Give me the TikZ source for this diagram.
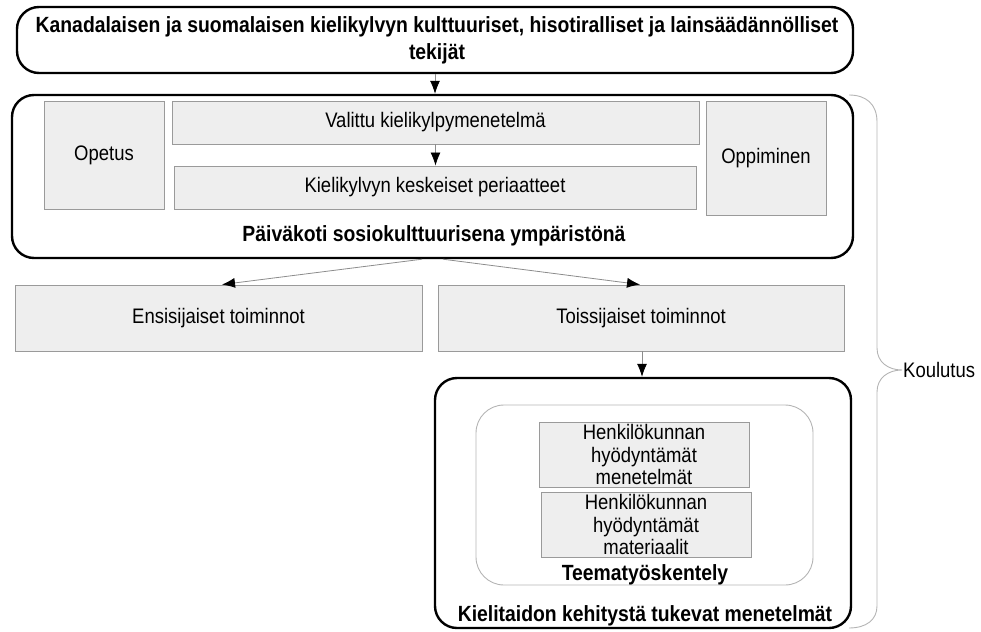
\documentclass[tikz,border=0pt]{standalone}
\usepackage{fontspec}
\setmainfont{Liberation Sans}[FakeStretch=0.88]
\usetikzlibrary{arrows.meta}
\definecolor{boxfill}{HTML}{EEEEEE}
\definecolor{boxline}{HTML}{9A9A9A}
\definecolor{linkgray}{HTML}{8C8C8C}
\definecolor{bracegray}{HTML}{B4B4B4}
\tikzset{
  frame/.style={draw=black, line width=2.4pt, rounded corners=22pt, inner sep=0pt},
  softframe/.style={draw=bracegray, line width=0.9pt, rounded corners=28pt, inner sep=0pt},
  greybox/.style={draw=boxline, fill=boxfill, line width=0.9pt, inner sep=0pt,
    align=center, font=\fontsize{21}{22.5}\selectfont},
  plain/.style={inner sep=0pt, align=center, font=\fontsize{21}{22.5}\selectfont},
  heading/.style={inner sep=0pt, align=center, font=\fontsize{22}{27}\selectfont\bfseries},
  link/.style={draw=linkgray, line width=0.8pt, -{Latex[length=13pt,width=10pt,color=black]}},
}
\begin{document}
\begin{tikzpicture}[x=1pt, y=-1pt]
\useasboundingbox (0,0) rectangle (981,631);

% top frame with the framework factors
\node[frame, minimum width=836pt, minimum height=66pt] (top) at (435,40) {};
\node[heading] (toptxt) at (437,40) {Kanadalaisen ja suomalaisen kielikylvyn kulttuuriset, hisotiralliset ja lainsäädännölliset\\tekijät};

% day-care frame
\node[frame, minimum width=841pt, minimum height=163pt] (main) at (432.5,176.5) {};
\node[greybox, minimum width=120pt, minimum height=108pt] (opetus) at (104,155) {Opetus};
\node[greybox, minimum width=527pt, minimum height=43pt] (valittu) at (435.5,122.5) {Valittu kielikylpymenetelmä};
\node[greybox, minimum width=522pt, minimum height=43pt] (periaat) at (435,187.5) {Kielikylvyn keskeiset periaatteet};
\node[greybox, minimum width=120pt, minimum height=114pt] (oppim) at (766,158) {Oppiminen};
\node[heading] (paivakoti) at (434,236) {Päiväkoti sosiokulttuurisena ympäristönä};

% activities
\node[greybox, minimum width=407pt, minimum height=66pt] (ensi) at (218.5,318) {Ensisijaiset toiminnot};
\node[greybox, minimum width=406pt, minimum height=66pt] (toissi) at (641,318) {Toissijaiset toiminnot};

% supporting methods
\node[frame, minimum width=416pt, minimum height=250pt] (tuki) at (643,503) {};
\node[softframe, minimum width=337pt, minimum height=180pt] (teema) at (644.5,495) {};
\node[greybox, minimum width=210pt, minimum height=65pt] (menet) at (644,454.5) {Henkilökunnan\\hyödyntämät\\menetelmät};
\node[greybox, minimum width=210pt, minimum height=65pt] (mater) at (646,524.5) {Henkilökunnan\\hyödyntämät\\materiaalit};
\node[heading] (teematxt) at (645,575) {Teematyöskentely};
\node[heading] (tukitxt) at (645,616) {Kielitaidon kehitystä tukevat menetelmät};

% connectors
\draw[link] (top.south) -- (top.south |- main.north);
\draw[link] (valittu.south) -- (valittu.south |- periaat.north);
\draw[link] ([xshift=-10.5pt]main.south) -- ([xshift=3.5pt]ensi.north);
\draw[link] ([xshift=10.5pt]main.south) -- ([xshift=-1pt]toissi.north);
\draw[link] ([xshift=1pt]toissi.south) -- ([xshift=1pt]toissi.south |- tuki.north);

% brace spanning the training scope
\coordinate (bracetip) at (902,370);
\draw[bracegray, line width=0.9pt]
  (849,95) .. controls (866,95) and (877,104) .. (877,122)
  -- (877,348) .. controls (877,362) and (888,370) .. (bracetip)
  .. controls (888,370) and (877,378) .. (877,392)
  -- (877,606) .. controls (877,620) and (866,628) .. (849,628);
\node[plain, anchor=west] (koulutus) at ([xshift=1pt]bracetip) {Koulutus};
\end{tikzpicture}
\end{document}
